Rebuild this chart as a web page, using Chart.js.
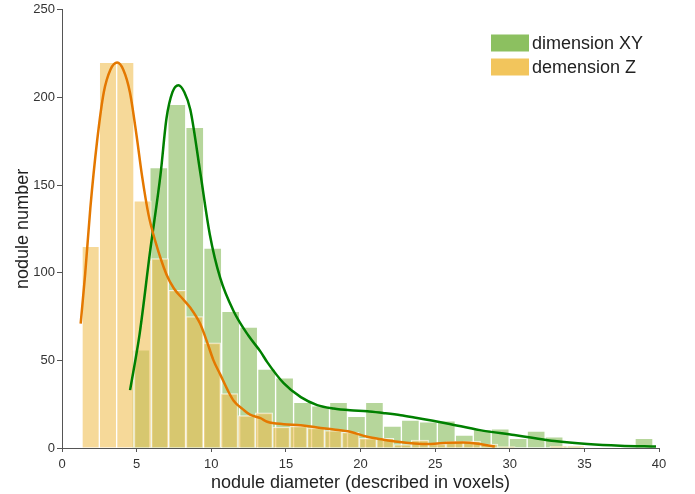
<!DOCTYPE html>
<html>
<head>
<meta charset="utf-8">
<script src="https://cdn.jsdelivr.net/npm/chart.js@4.4.1/dist/chart.umd.min.js"></script>
<style>
  html, body { margin: 0; padding: 0; background: #fff; }
  #wrap { width: 695px; height: 494px; }
</style>
</head>
<body>
<div id="wrap"><canvas id="chart"></canvas></div>
<script>
// Histogram bins (diameter in voxels)
const xyBinStart = 4.68
const xyBinWidth = 1.204
const xyCounts = [56, 160, 196, 183, 114, 78, 69, 45, 40, 26, 24, 26, 18, 26, 12.5, 16, 15, 15.5, 7.4, 10.5, 11, 5.5, 9.6, 6.4, 1, 0, 0, 0, 5.5]

const zBinStart = 1.34
const zBinWidth = 1.161
const zCounts = [115, 220, 220, 141, 108, 90, 75, 60, 31, 18.5, 20, 12, 12.5, 11.5, 10, 9, 5.5, 5.5, 2, 4.5, 2.3, 3.6, 4, 2.3, 0.8, 0, 0, 1, 1]

// Density curves
const xyCurveX = [4.56, 5.2, 5.9, 6.6, 7.0, 7.4, 7.8, 8.2, 8.6, 9.25, 9.9, 10.6, 11.5, 12.5, 13.3, 13.75, 14.85, 16.0, 17.1, 18.2, 19.3, 20.45, 21.5, 22.7, 23.6, 25.8, 28.0, 30.3, 31.4, 33, 35.2, 37.4, 39.8]
const xyCurveY = [33, 65, 112, 156, 188, 203, 207, 203, 193, 158, 122, 97, 78, 64, 55, 49, 37, 29, 24.5, 22.5, 21.5, 21, 20, 18.7, 17.4, 14, 10.2, 7.4, 6, 4, 2.3, 1.3, 0.8]

const zCurveX = [1.25, 1.55, 1.9, 2.35, 2.8, 3.25, 3.7, 4.1, 4.55, 5.0, 5.35, 5.8, 6.25, 7.0, 7.5, 8.1, 8.6, 9.25, 9.7, 10.15, 10.6, 11.1, 11.5, 12.2, 12.6, 13.3, 13.75, 14.85, 16, 17.1, 18.2, 19.3, 20.45, 21.5, 22.5, 23.6, 24.7, 25.8, 26.9, 28, 29.0]
const zCurveY = [71, 99, 137, 175, 203, 216, 220, 216, 203, 178, 156, 133, 118, 99, 91, 85, 80, 71, 61, 50, 42, 33, 27, 21.5, 19, 17, 15, 13.6, 13, 11.7, 10.6, 9.3, 6.4, 4.8, 3.5, 2.6, 2.3, 3, 3.2, 2.3, 0.8]

const xTicks = [0, 5, 10, 15, 20, 25, 30, 35, 40]
const yTicks = [0, 50, 100, 150, 200, 250]

// helpers
function binPoints(start, width, counts) {
  return counts.map((c, i) => ({ x: start + width * (i + 0.5), y: c }))
}
function curvePoints(xs, ys) {
  return xs.map((x, i) => ({ x: x, y: ys[i] }))
}

const FONT = 'Liberation Sans, Arial, Helvetica, sans-serif'

// legend drawn inside the plot, top right
const boxLegend = {
  id: 'boxLegend',
  afterDraw(chart) {
    const ctx = chart.ctx
    const items = chart.data.datasets.filter(d => d.legendColor)
    ctx.save()
    ctx.font = '18px ' + FONT
    ctx.textBaseline = 'middle'
    items.forEach((d, i) => {
      const y = 43 + i * 24
      ctx.fillStyle = d.legendColor
      ctx.fillRect(491, y - 8.5, 38, 17)
      ctx.fillStyle = '#222'
      ctx.fillText(d.label, 532, y + 1)
    })
    ctx.restore()
  }
}

const ctx = document.getElementById('chart')
new Chart(ctx, {
  type: 'bar',
  data: {
    datasets: [
      {
        type: 'line',
        label: 'kde Z',
        data: curvePoints(zCurveX, zCurveY),
        xAxisID: 'x',
        borderColor: 'rgb(228,120,0)',
        borderWidth: 2.5,
        pointRadius: 0,
        cubicInterpolationMode: 'monotone',
        order: 0
      },
      {
        type: 'line',
        label: 'kde XY',
        data: curvePoints(xyCurveX, xyCurveY),
        xAxisID: 'x',
        borderColor: 'rgb(0,128,0)',
        borderWidth: 2.5,
        pointRadius: 0,
        cubicInterpolationMode: 'monotone',
        order: 0
      },
      {
        label: 'dimension XY',
        data: binPoints(xyBinStart, xyBinWidth, xyCounts),
        xAxisID: 'x',
        backgroundColor: 'rgba(120,180,70,0.54)',
        borderColor: 'rgba(255,255,255,0.75)',
        borderWidth: 1,
        legendColor: 'rgb(140,192,96)',
        grouped: false,
        barPercentage: 1,
        categoryPercentage: 1,
        order: 2
      },
      {
        label: 'demension Z',
        data: binPoints(zBinStart, zBinWidth, zCounts),
        xAxisID: 'x2',
        backgroundColor: 'rgba(240,190,80,0.58)',
        borderColor: 'rgba(255,255,255,0.75)',
        borderWidth: 1,
        legendColor: 'rgb(242,197,92)',
        grouped: false,
        barPercentage: 1,
        categoryPercentage: 1,
        order: 1
      }
    ]
  },
  options: {
    responsive: true,
    maintainAspectRatio: false,
    animation: false,
    layout: { padding: { top: 7, right: 36, left: 0, bottom: 0 } },
    plugins: {
      legend: { display: false },
      tooltip: { enabled: false }
    },
    scales: {
      x: {
        type: 'linear',
        min: 0,
        max: 40,
        offset: false,
        afterFit: s => { s.height = 46 },
        afterBuildTicks: s => { s.ticks = xTicks.map(v => ({ value: v })) },
        grid: { drawOnChartArea: false, offset: false, tickLength: 4, color: '#555' },
        border: { color: '#555', width: 1 },
        ticks: { color: '#333', font: { family: FONT, size: 13 }, padding: 5, maxRotation: 0 },
        title: {
          display: true,
          text: 'nodule diameter (described in voxels)',
          color: '#222',
          font: { family: FONT, size: 18 },
          padding: { top: 0, bottom: 0 }
        }
      },
      x2: {
        type: 'linear',
        min: 0,
        max: 40,
        offset: false,
        display: false
      },
      y: {
        min: 0,
        max: 250,
        afterFit: s => { s.width = 62 },
        afterBuildTicks: s => { s.ticks = yTicks.map(v => ({ value: v })) },
        grid: { drawOnChartArea: false, tickLength: 5, color: '#555' },
        border: { color: '#555', width: 1 },
        ticks: { color: '#333', font: { family: FONT, size: 13 }, padding: 2 },
        title: {
          display: true,
          text: 'nodule number',
          color: '#222',
          font: { family: FONT, size: 18 },
          padding: { top: 12, bottom: 0 }
        }
      }
    }
  },
  plugins: [boxLegend]
})
</script>
</body>
</html>
